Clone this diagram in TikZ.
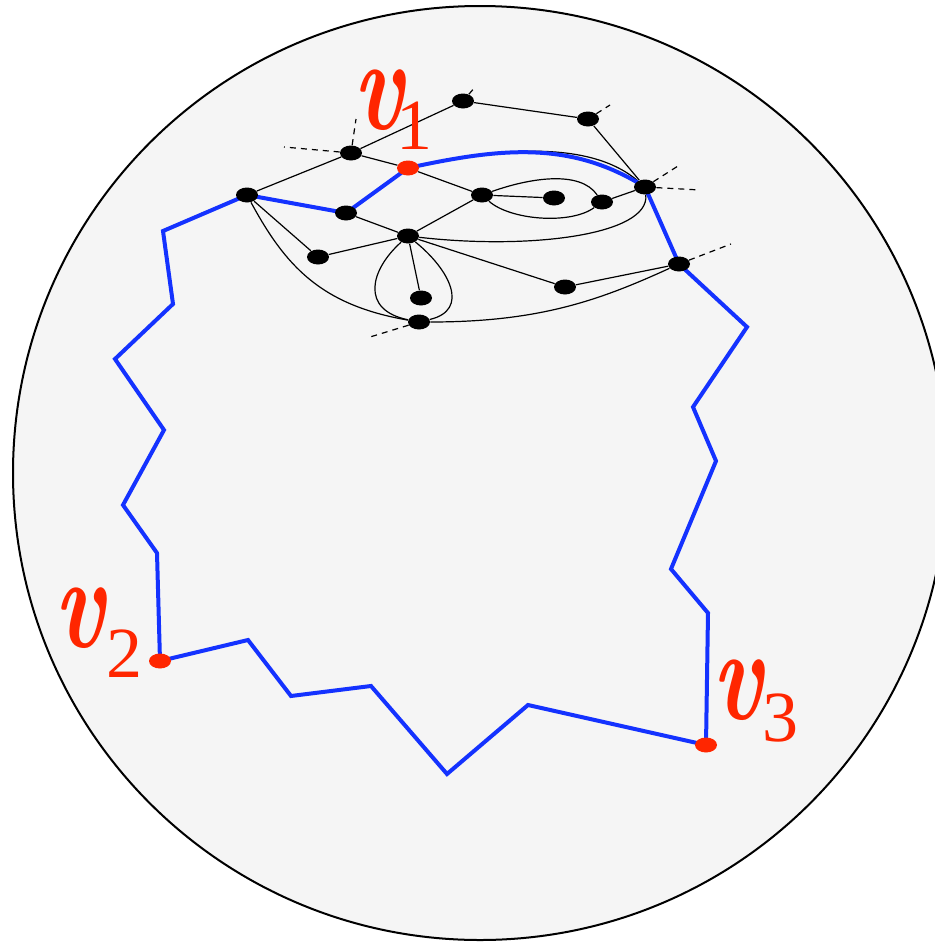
\documentclass[tikz,border=0pt]{standalone}
\usepackage{graphicx}
\usepackage{fontspec}
\setmainfont{Liberation Serif}
\newfontfamily\lmitfont{lmroman10-bolditalic}[Extension=.otf]
\usetikzlibrary{shapes.geometric}
\pgfdeclarelayer{bg}
\pgfdeclarelayer{edges}
\pgfsetlayers{bg,edges,main}
\definecolor{pathblue}{RGB}{20,50,255}
\definecolor{vred}{RGB}{255,38,0}
\definecolor{disk}{RGB}{245,245,245}
\newcommand\mybigv{\scalebox{0.72}[1]{\fontsize{66}{66}\selectfont\lmitfont v}}
\newcommand\mysubdig[1]{{\fontsize{36}{36}\selectfont\upshape #1}}
\tikzset{
  dot/.style={ellipse, fill=black, minimum width=11pt, minimum height=7.5pt, inner sep=0pt},
  rdot/.style={dot, fill=vred},
  gedge/.style={line width=0.6pt, black},
  stub/.style={line width=0.6pt, black, dash pattern=on 3pt off 2.5pt},
  bluepath/.style={line width=2pt, pathblue, line join=miter},
  lab/.style={text=vred, inner sep=0pt, anchor=base west}
}
\begin{document}
\begin{tikzpicture}[x=0.5pt,y=-0.5pt]
\useasboundingbox (0,0) rectangle (935,942);
\begin{pgfonlayer}{bg}
\fill[white] (0,0) rectangle (935,942);
\draw[line width=1pt, fill=disk] (480,473) circle[radius=467];
\end{pgfonlayer}
% nodes
\node[dot] (A) at (247,195) {};
\node[dot] (B) at (351,153) {};
\node[rdot] (v1) at (408,168) {};
\node[dot] (C) at (346,213) {};
\node[dot] (D) at (318,257) {};
\node[dot] (E) at (408,236) {};
\node[dot] (F) at (421,298) {};
\node[dot] (G) at (419,322) {};
\node[dot] (H) at (463,101) {};
\node[dot] (I) at (482,195) {};
\node[dot] (J) at (588,119) {};
\node[dot] (K) at (645,187) {};
\node[dot] (L) at (554,198) {};
\node[dot] (M) at (602,202) {};
\node[dot] (N) at (679,264) {};
\node[dot] (O) at (565,287) {};
\node[rdot] (v2) at (160,661) {};
\node[rdot] (v3) at (706,745) {};
% stub ends
\coordinate (sB1) at (284,147);
\coordinate (sB2) at (356,119);
\coordinate (sH) at (476,86);
\coordinate (sJ) at (610,105);
\coordinate (sK1) at (678,166);
\coordinate (sK2) at (700,190);
\coordinate (sN) at (731,244);
\coordinate (sG) at (370,337);
\coordinate (sA) at (200,214);
% blue path corners
\coordinate (p1) at (157,553);
\coordinate (p2) at (123,505);
\coordinate (p3) at (164,430);
\coordinate (p4) at (115,359);
\coordinate (p5) at (173,304);
\coordinate (p6) at (163,231);
\coordinate (p7) at (747,327);
\coordinate (p8) at (693,407);
\coordinate (p9) at (716,461);
\coordinate (p10) at (671,569);
\coordinate (p11) at (708,613);
\coordinate (p12) at (528,705);
\coordinate (p13) at (447,774);
\coordinate (p14) at (371,686);
\coordinate (p15) at (291,696);
\coordinate (p16) at (248,640);
% labels
\node[lab] (l1) at (353,129) {\mybigv\kern-3.5pt\raisebox{-10pt}{\mysubdig{1}}};
\node[lab] (l2) at (54,647) {\mybigv\kern1pt\raisebox{-15pt}{\mysubdig{2}}};
\node[lab] (l3) at (712,719) {\mybigv\kern0pt\raisebox{-11pt}{\mysubdig{3}}};
\begin{pgfonlayer}{edges}
% graph edges
\draw[gedge] (A) -- (B);
\draw[gedge] (B) -- (H);
\draw[gedge] (B) -- (v1);
\draw[gedge] (H) -- (J);
\draw[gedge] (J) -- (K);
\draw[gedge] (A) -- (C);
\draw[gedge] (C) -- (v1);
\draw[gedge] (v1) -- (I);
\draw[gedge] (C) -- (E);
\draw[gedge] (A) -- (D);
\draw[gedge] (D) -- (E);
\draw[gedge] (A) .. controls (285,265) and (320,305) .. (G);
\draw[gedge] (E) -- (F);
\draw[gedge] (E) .. controls (370,270) and (360,310) .. (G);
\draw[gedge] (E) .. controls (450,270) and (470,310) .. (G);
\draw[gedge] (G) .. controls (540,322) and (600,300) .. (N);
\draw[gedge] (E) -- (I);
\draw[gedge] (E) -- (O);
\draw[gedge] (O) -- (N);
\draw[gedge] (E) .. controls (530,250) and (650,235) .. (K);
\draw[gedge] (I) -- (L);
\draw[gedge] (I) .. controls (530,178) and (580,170) .. (M);
\draw[gedge] (I) .. controls (510,220) and (570,225) .. (M);
\draw[gedge] (M) -- (K);
\draw[gedge] (K) -- (N);
\draw[gedge] (v1) .. controls (500,148) and (590,140) .. (K);
% stubs
\draw[stub] (B) -- (sB1);
\draw[stub] (B) -- (sB2);
\draw[stub] (H) -- (sH);
\draw[stub] (J) -- (sJ);
\draw[stub] (K) -- (sK1);
\draw[stub] (K) -- (sK2);
\draw[stub] (N) -- (sN);
\draw[stub] (G) -- (sG);
\draw[stub] (A) -- (sA);
% blue cycle
\draw[bluepath] (v2.center) -- (p1) -- (p2) -- (p3) -- (p4) -- (p5) -- (p6)
  -- (A.center) -- (C.center) -- (v1.center)
  .. controls (500,148) and (570,140) .. (K.center)
  -- (N.center) -- (p7) -- (p8) -- (p9) -- (p10) -- (p11) -- (v3.center)
  -- (p12) -- (p13) -- (p14) -- (p15) -- (p16) -- cycle;
\end{pgfonlayer}
\end{tikzpicture}
\end{document}
